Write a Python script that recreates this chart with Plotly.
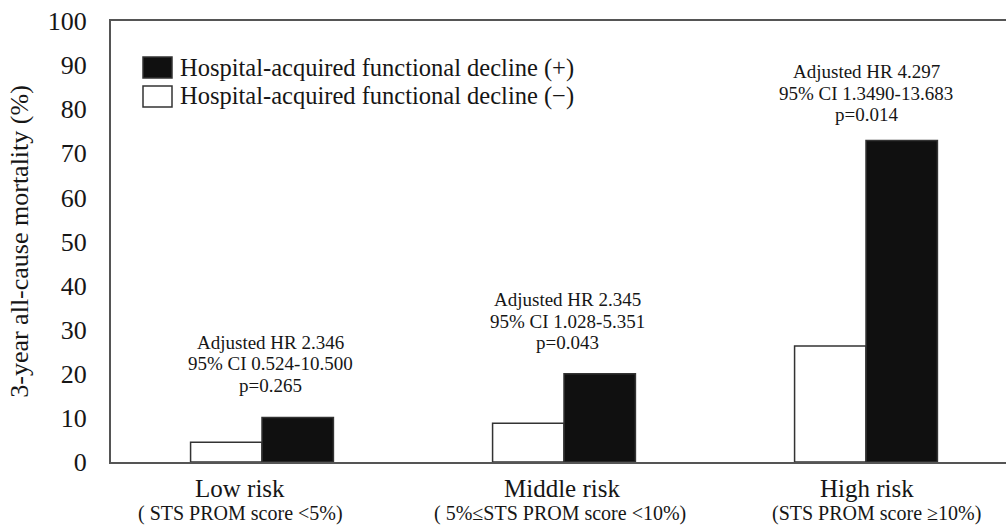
import plotly.graph_objects as go

# Risk groups and 3-year all-cause mortality (%)
groups = ["Low risk", "Middle risk", "High risk"]
group_notes = ["( STS PROM score <5%)", "( 5%\u2264STS PROM score <10%)", "(STS PROM score \u226510%)"]
decline_minus = [4.5, 8.8, 26.3]
decline_plus = [10.1, 20.0, 72.9]
series_names = ["Hospital-acquired functional decline (+)",
                "Hospital-acquired functional decline (\u2212)"]
hr_lines = [
    ["Adjusted HR 2.346", "95% CI 0.524-10.500", "p=0.265"],
    ["Adjusted HR 2.345", "95% CI 1.028-5.351", "p=0.043"],
    ["Adjusted HR 4.297", "95% CI 1.3490-13.683", "p=0.014"],
]
y_ticks = [0, 10, 20, 30, 40, 50, 60, 70, 80, 90, 100]

FONT = "Liberation Serif, Times New Roman, serif"
INK = "#161616"
EDGE = "#333333"
AXIS = "#555555"

W, H = 1006, 532
L, R, T, B = 111, 0, 21, 70
plot_w = W - L - R
px_per_cat = 302

fig = go.Figure()
fig.add_trace(go.Bar(
    x=list(range(len(groups))), y=decline_minus, name=series_names[1],
    marker=dict(color="white", line=dict(color=EDGE, width=1.5)),
    showlegend=False,
))
fig.add_trace(go.Bar(
    x=list(range(len(groups))), y=decline_plus, name=series_names[0],
    marker=dict(color="#101010", line=dict(color=EDGE, width=1.5)),
    showlegend=False,
))

annotations = []
# hazard-ratio notes above each group, one annotation per line for tight spacing
hr_xshift = [8, 3, 0]
hr_gap = [32, 31, 26]
line_step = 21.5
for i, lines in enumerate(hr_lines):
    n = len(lines)
    for k, txt in enumerate(lines):
        annotations.append(dict(
            x=i, y=decline_plus[i], xref="x", yref="y", text=txt, showarrow=False,
            xanchor="center", yanchor="middle",
            xshift=hr_xshift[i], yshift=hr_gap[i] + (n - 1 - k) * line_step,
            font=dict(family=FONT, size=19, color=INK),
        ))

# two-line category labels under the axis
label_xshift = [-22, -2, 1]
note_xshift = [-22, -4, 10]
for i, g in enumerate(groups):
    annotations.append(dict(
        x=i, y=0, xref="x", yref="paper", text=g, showarrow=False,
        xanchor="center", yanchor="middle", xshift=label_xshift[i], yshift=-26,
        font=dict(family=FONT, size=25, color=INK),
    ))
    annotations.append(dict(
        x=i, y=0, xref="x", yref="paper", text=group_notes[i], showarrow=False,
        xanchor="center", yanchor="middle", xshift=note_xshift[i], yshift=-51,
        font=dict(family=FONT, size=20, color=INK),
    ))

# legend drawn with larger swatches
shapes = []
def px_x(p):
    return (p - L) / plot_w
def px_y(p):
    return 1 - (p - T) / (H - T - B)

swatch_fill = ["#101010", "white"]
row_y = [67.5, 96.5]
for k in range(2):
    shapes.append(dict(
        type="rect", xref="paper", yref="paper",
        x0=px_x(143), x1=px_x(172), y0=px_y(row_y[k] - 10.5), y1=px_y(row_y[k] + 10.5),
        fillcolor=swatch_fill[k], line=dict(color=EDGE, width=1.5),
    ))
    annotations.append(dict(
        x=px_x(178), y=px_y(row_y[k]), xref="paper", yref="paper",
        text=series_names[k], showarrow=False, xanchor="left", yanchor="middle",
        font=dict(family=FONT, size=24.5, color=INK),
    ))

fig.update_layout(
    width=W, height=H,
    margin=dict(l=L, r=R, t=T, b=B),
    paper_bgcolor="white", plot_bgcolor="white",
    barmode="group", bargap=0.527, bargroupgap=0,
    font=dict(family=FONT, color=INK),
    annotations=annotations, shapes=shapes,
    xaxis=dict(
        range=[-0.5, -0.5 + plot_w / px_per_cat],
        showticklabels=False, ticks="", showgrid=False, zeroline=False,
        showline=True, linecolor=AXIS, linewidth=2, mirror=True,
    ),
    yaxis=dict(
        range=[0, 100], tickvals=y_ticks, ticks="", showgrid=False, zeroline=False,
        showline=True, linecolor=AXIS, linewidth=2,
        tickfont=dict(family=FONT, size=26, color=INK),
        ticklabelstandoff=17,
        title=dict(text="3-year all-cause mortality (%)", standoff=12,
                   font=dict(family=FONT, size=26, color=INK)),
    ),
)

fig.write_html("out.html")
